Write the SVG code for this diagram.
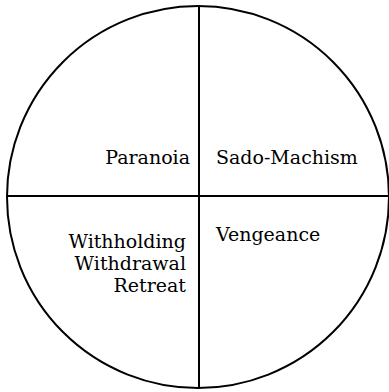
<svg xmlns="http://www.w3.org/2000/svg" width="389" height="392" viewBox="0 0 389 392">
<style>
.ln{fill:none;stroke:#000;stroke-width:2}
.t{font-family:"DejaVu Serif","Liberation Serif",serif;font-size:19px;fill:#000}
.r{text-anchor:end}
</style>
<rect width="389" height="392" fill="#fff"/>
<g id="connectors">
<circle class="ln" cx="198" cy="197" r="191"/>
<line class="ln" x1="199" y1="6" x2="199" y2="388"/>
<line class="ln" x1="7" y1="196" x2="389" y2="196"/>
</g>
<g id="paranoia"><text class="t r" x="190" y="164">Paranoia</text></g>
<g id="sado"><text class="t" x="216" y="164">Sado-Machism</text></g>
<g id="vengeance"><text class="t" x="216" y="241">Vengeance</text></g>
<g id="withholding"><text class="t r" x="186" y="248">Withholding</text><text class="t r" x="186" y="270">Withdrawal</text><text class="t r" x="186" y="292">Retreat</text></g>
</svg>
